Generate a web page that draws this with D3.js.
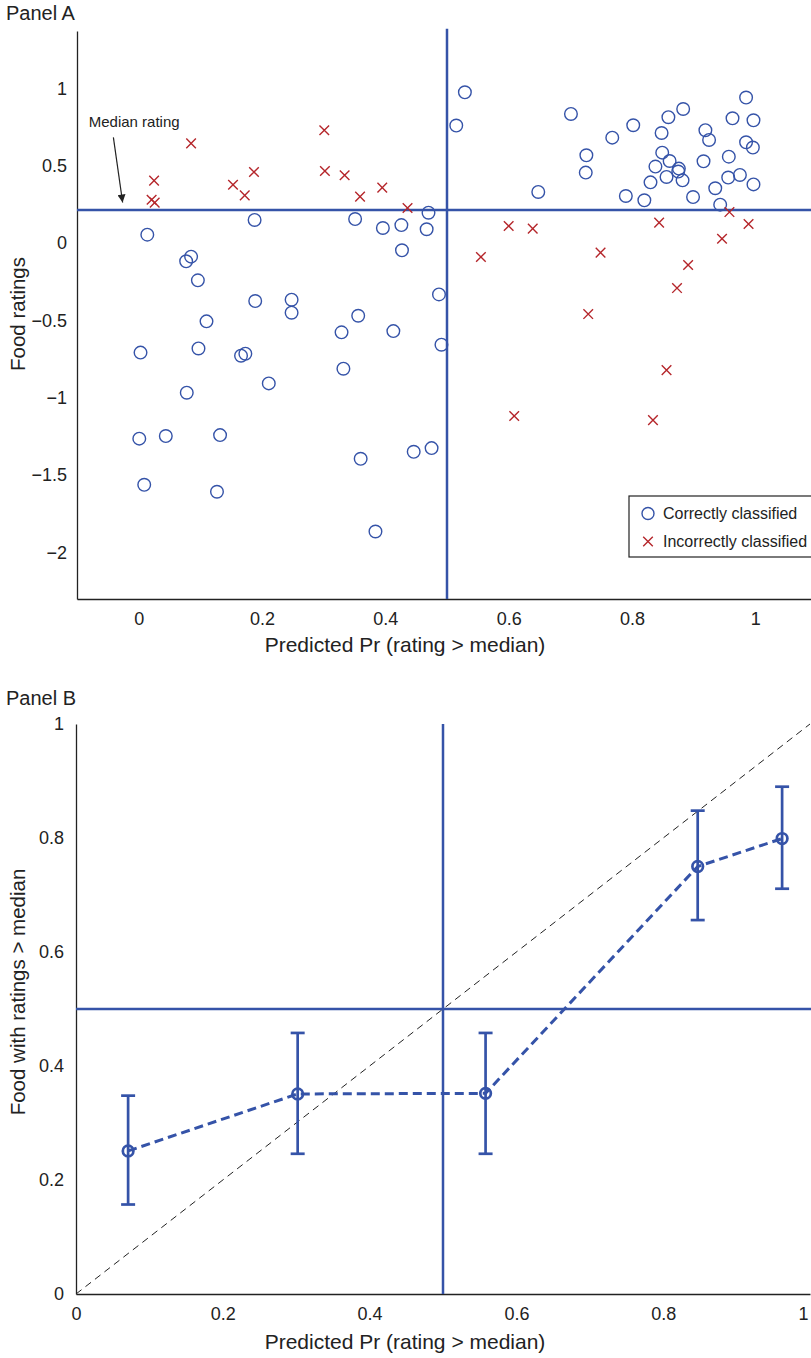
<!DOCTYPE html>
<html>
<head>
<meta charset="utf-8">
<script src="https://cdn.jsdelivr.net/npm/d3@7"></script>
<style>
  body { margin: 0; background: #fff; }
  svg { display: block; font-family: "Liberation Sans", Arial, Helvetica, sans-serif; }
</style>
</head>
<body>
<script>
// Panel A: predicted probability vs food rating, split by classification
const correctPr = [0.014, 0.188, 0.077, 0.085, 0.096, 0.189, 0.110, 0.003, 0.097, 0.166, 0.173, 0.211, 0.078, 0.001, 0.044, 0.132, 0.009, 0.127,
  0.529, 0.515, 0.648, 0.470, 0.351, 0.396, 0.426, 0.467, 0.427, 0.487, 0.248, 0.248, 0.356,
  0.329, 0.413, 0.491, 0.332, 0.446, 0.475, 0.360, 0.384,
  0.701, 0.726, 0.725, 0.768, 0.802, 0.790, 0.820, 0.830, 0.838, 0.849, 0.848, 0.859, 0.883, 0.861, 0.856, 0.876, 0.875,
  0.882, 0.899, 0.916, 0.919, 0.925, 0.935, 0.943, 0.956, 0.957, 0.975, 0.963, 0.985, 0.997, 0.985, 0.996, 0.997];
const correctRating = [0.054, 0.149, -0.118, -0.088, -0.241, -0.375, -0.506, -0.708, -0.681, -0.728, -0.715, -0.907, -0.967, -1.264, -1.247, -1.241, -1.562, -1.607,
  0.974, 0.759, 0.330, 0.196, 0.155, 0.097, 0.116, 0.089, -0.047, -0.332, -0.366, -0.450, -0.470,
  -0.577, -0.569, -0.657, -0.812, -1.349, -1.325, -1.394, -1.864,
  0.834, 0.567, 0.455, 0.681, 0.761, 0.304, 0.276, 0.392, 0.494, 0.584, 0.711, 0.813, 0.866, 0.530, 0.427, 0.481, 0.462,
  0.405, 0.297, 0.528, 0.729, 0.666, 0.354, 0.248, 0.423, 0.558, 0.440, 0.806, 0.940, 0.793, 0.651, 0.617, 0.379];
const wrongPr = [0.085, 0.025, 0.021, 0.026, 0.153, 0.172, 0.187, 0.301, 0.302, 0.334, 0.359, 0.395, 0.436,
  0.600, 0.639, 0.555, 0.609, 0.958, 0.844, 0.989, 0.946, 0.749, 0.891, 0.873, 0.729, 0.856, 0.834];
const wrongRating = [0.644, 0.403, 0.280, 0.261, 0.377, 0.308, 0.459, 0.729, 0.465, 0.438, 0.300, 0.358, 0.226,
  0.110, 0.093, -0.090, -1.118, 0.200, 0.132, 0.123, 0.028, -0.062, -0.142, -0.291, -0.459, -0.821, -1.144];
const medianRating = 0.213;
const cutoffPr = 0.5;
const xTicksA = [0, 0.2, 0.4, 0.6, 0.8, 1];
const yTicksA = [-2, -1.5, -1, -0.5, 0, 0.5, 1];
const legendLabels = ['Correctly classified', 'Incorrectly classified'];

// Panel B: binned calibration
const binPr = [0.071, 0.302, 0.558, 0.847, 0.962];
const binShare = [0.251, 0.351, 0.352, 0.750, 0.799];
const binLow = [0.157, 0.246, 0.246, 0.656, 0.711];
const binHigh = [0.348, 0.458, 0.458, 0.848, 0.890];
const ticksB = [0, 0.2, 0.4, 0.6, 0.8, 1];

const blue = '#3553a8';
const red = '#b5262b';
const ink = '#222';
const fmt = d3.format('');

const svg = d3.select('body').append('svg')
  .attr('width', 811)
  .attr('height', 1358);

function styleAxis(g) {
  g.attr('font-family', null).attr('font-size', null);
  g.select('.domain').attr('stroke', ink).attr('stroke-width', 1.3);
  g.selectAll('.tick text').attr('fill', ink).style('font-size', '18px');
}

// ---------- Panel A ----------
const xA = d3.scaleLinear().domain([-0.1, 1.1]).range([77, 817]);
const yA = d3.scaleLinear().domain([-2.3, 1.37]).range([599, 31]);

svg.append('text')
  .attr('x', 6).attr('y', 20)
  .attr('font-size', 20).attr('fill', ink)
  .text('Panel A');

svg.append('g')
  .attr('transform', 'translate(0,' + yA(-2.3) + ')')
  .call(d3.axisBottom(xA).tickValues(xTicksA).tickFormat(fmt).tickSize(0).tickSizeOuter(0).tickPadding(13))
  .call(styleAxis);

svg.append('g')
  .attr('transform', 'translate(' + xA(-0.1) + ',0)')
  .call(d3.axisLeft(yA).tickValues(yTicksA).tickFormat(fmt).tickSize(0).tickSizeOuter(0).tickPadding(10))
  .call(styleAxis);

svg.append('text')
  .attr('transform', 'translate(25,' + 314 + ') rotate(-90)')
  .attr('text-anchor', 'middle')
  .attr('font-size', 20.5).attr('fill', ink)
  .text('Food ratings');

svg.append('text')
  .attr('x', 405).attr('y', 652)
  .attr('text-anchor', 'middle')
  .attr('font-size', 21).attr('fill', ink)
  .text('Predicted Pr (rating > median)');

// reference lines
svg.append('line')
  .attr('x1', xA(-0.1)).attr('x2', xA(1.1))
  .attr('y1', yA(medianRating)).attr('y2', yA(medianRating))
  .attr('stroke', blue).attr('stroke-width', 2.5);
svg.append('line')
  .attr('x1', xA(cutoffPr)).attr('x2', xA(cutoffPr))
  .attr('y1', yA(-2.3)).attr('y2', yA(1.385))
  .attr('stroke', blue).attr('stroke-width', 2.5);

// points
const xPath = 'M-4.8,-4.8L4.8,4.8M-4.8,4.8L4.8,-4.8';
svg.append('g').selectAll('circle')
  .data(d3.range(correctPr.length))
  .enter().append('circle')
  .attr('cx', (i) => xA(correctPr[i]))
  .attr('cy', (i) => yA(correctRating[i]))
  .attr('r', 6.3)
  .attr('fill', 'none')
  .attr('stroke', blue)
  .attr('stroke-width', 1.4);

svg.append('g').selectAll('path')
  .data(d3.range(wrongPr.length))
  .enter().append('path')
  .attr('transform', (i) => 'translate(' + xA(wrongPr[i]) + ',' + yA(wrongRating[i]) + ')')
  .attr('d', xPath)
  .attr('fill', 'none')
  .attr('stroke', red)
  .attr('stroke-width', 1.4);

// median annotation
svg.append('defs').append('marker')
  .attr('id', 'arrow')
  .attr('viewBox', '0 0 10 10')
  .attr('refX', 10).attr('refY', 5)
  .attr('markerWidth', 11).attr('markerHeight', 8)
  .attr('markerUnits', 'userSpaceOnUse')
  .attr('orient', 'auto')
  .append('path')
  .attr('d', 'M0,0L10,5L0,10Z')
  .attr('fill', ink);

svg.append('text')
  .attr('x', xA(-0.081)).attr('y', yA(0.748))
  .attr('font-size', 15).attr('fill', ink)
  .text('Median rating');

svg.append('line')
  .attr('x1', xA(-0.041)).attr('y1', yA(0.683))
  .attr('x2', xA(-0.026)).attr('y2', yA(0.262))
  .attr('stroke', ink).attr('stroke-width', 1.2)
  .attr('marker-end', 'url(#arrow)');

// legend
const legend = svg.append('g').attr('transform', 'translate(629,496)');
legend.append('rect')
  .attr('width', 200).attr('height', 61)
  .attr('fill', '#fff')
  .attr('stroke', ink).attr('stroke-width', 1.2);
legend.append('circle')
  .attr('cx', 19).attr('cy', 17.5).attr('r', 6)
  .attr('fill', 'none').attr('stroke', blue).attr('stroke-width', 1.4);
legend.append('path')
  .attr('transform', 'translate(19,45.5)')
  .attr('d', xPath)
  .attr('fill', 'none').attr('stroke', red).attr('stroke-width', 1.4);
legend.selectAll('.lab')
  .data(legendLabels)
  .enter().append('text')
  .attr('x', 34)
  .attr('y', (d, i) => 23 + i * 28)
  .attr('font-size', 16).attr('fill', ink)
  .text((d) => d);

// ---------- Panel B ----------
const xB = d3.scaleLinear().domain([0, 1]).range([76, 810]);
const yB = d3.scaleLinear().domain([0, 1]).range([1294, 724]);

svg.append('text')
  .attr('x', 6).attr('y', 705)
  .attr('font-size', 20).attr('fill', ink)
  .text('Panel B');

const xAxisB = svg.append('g')
  .attr('transform', 'translate(0,' + yB(0) + ')')
  .call(d3.axisBottom(xB).tickValues(ticksB).tickFormat(fmt).tickSize(0).tickSizeOuter(0).tickPadding(13))
  .call(styleAxis);
// last label sits on the page edge; keep it inside
xAxisB.selectAll('.tick text').filter((d) => d === 1).attr('text-anchor', 'end').attr('dx', -2);

svg.append('g')
  .attr('transform', 'translate(' + xB(0) + ',0)')
  .call(d3.axisLeft(yB).tickValues(ticksB).tickFormat(fmt).tickSize(0).tickSizeOuter(0).tickPadding(12))
  .call(styleAxis);

svg.append('text')
  .attr('transform', 'translate(25,992) rotate(-90)')
  .attr('text-anchor', 'middle')
  .attr('font-size', 20.5).attr('fill', ink)
  .text('Food with ratings > median');

svg.append('text')
  .attr('x', 405).attr('y', 1349)
  .attr('text-anchor', 'middle')
  .attr('font-size', 21).attr('fill', ink)
  .text('Predicted Pr (rating > median)');

// 45 degree line
svg.append('line')
  .attr('x1', xB(0)).attr('y1', yB(0))
  .attr('x2', xB(1)).attr('y2', yB(1))
  .attr('stroke', ink).attr('stroke-width', 1)
  .attr('stroke-dasharray', '7,5');

svg.append('line')
  .attr('x1', xB(0)).attr('x2', xB(1.003))
  .attr('y1', yB(0.5)).attr('y2', yB(0.5))
  .attr('stroke', blue).attr('stroke-width', 2.5);
svg.append('line')
  .attr('x1', xB(0.5)).attr('x2', xB(0.5))
  .attr('y1', yB(0)).attr('y2', yB(1))
  .attr('stroke', blue).attr('stroke-width', 2.5);

const line = d3.line()
  .x((i) => xB(binPr[i]))
  .y((i) => yB(binShare[i]));

svg.append('path')
  .attr('d', line(d3.range(binPr.length)))
  .attr('fill', 'none')
  .attr('stroke', blue)
  .attr('stroke-width', 3)
  .attr('stroke-dasharray', '9,5');

const bars = svg.append('g').selectAll('g')
  .data(d3.range(binPr.length))
  .enter().append('g')
  .attr('stroke', blue)
  .attr('stroke-width', 2.7)
  .attr('fill', 'none');

bars.append('line')
  .attr('x1', (i) => xB(binPr[i])).attr('x2', (i) => xB(binPr[i]))
  .attr('y1', (i) => yB(binLow[i])).attr('y2', (i) => yB(binHigh[i]));
bars.append('line')
  .attr('x1', (i) => xB(binPr[i]) - 7).attr('x2', (i) => xB(binPr[i]) + 7)
  .attr('y1', (i) => yB(binLow[i])).attr('y2', (i) => yB(binLow[i]));
bars.append('line')
  .attr('x1', (i) => xB(binPr[i]) - 7).attr('x2', (i) => xB(binPr[i]) + 7)
  .attr('y1', (i) => yB(binHigh[i])).attr('y2', (i) => yB(binHigh[i]));
bars.append('circle')
  .attr('cx', (i) => xB(binPr[i]))
  .attr('cy', (i) => yB(binShare[i]))
  .attr('r', 5.3);
</script>
</body>
</html>
